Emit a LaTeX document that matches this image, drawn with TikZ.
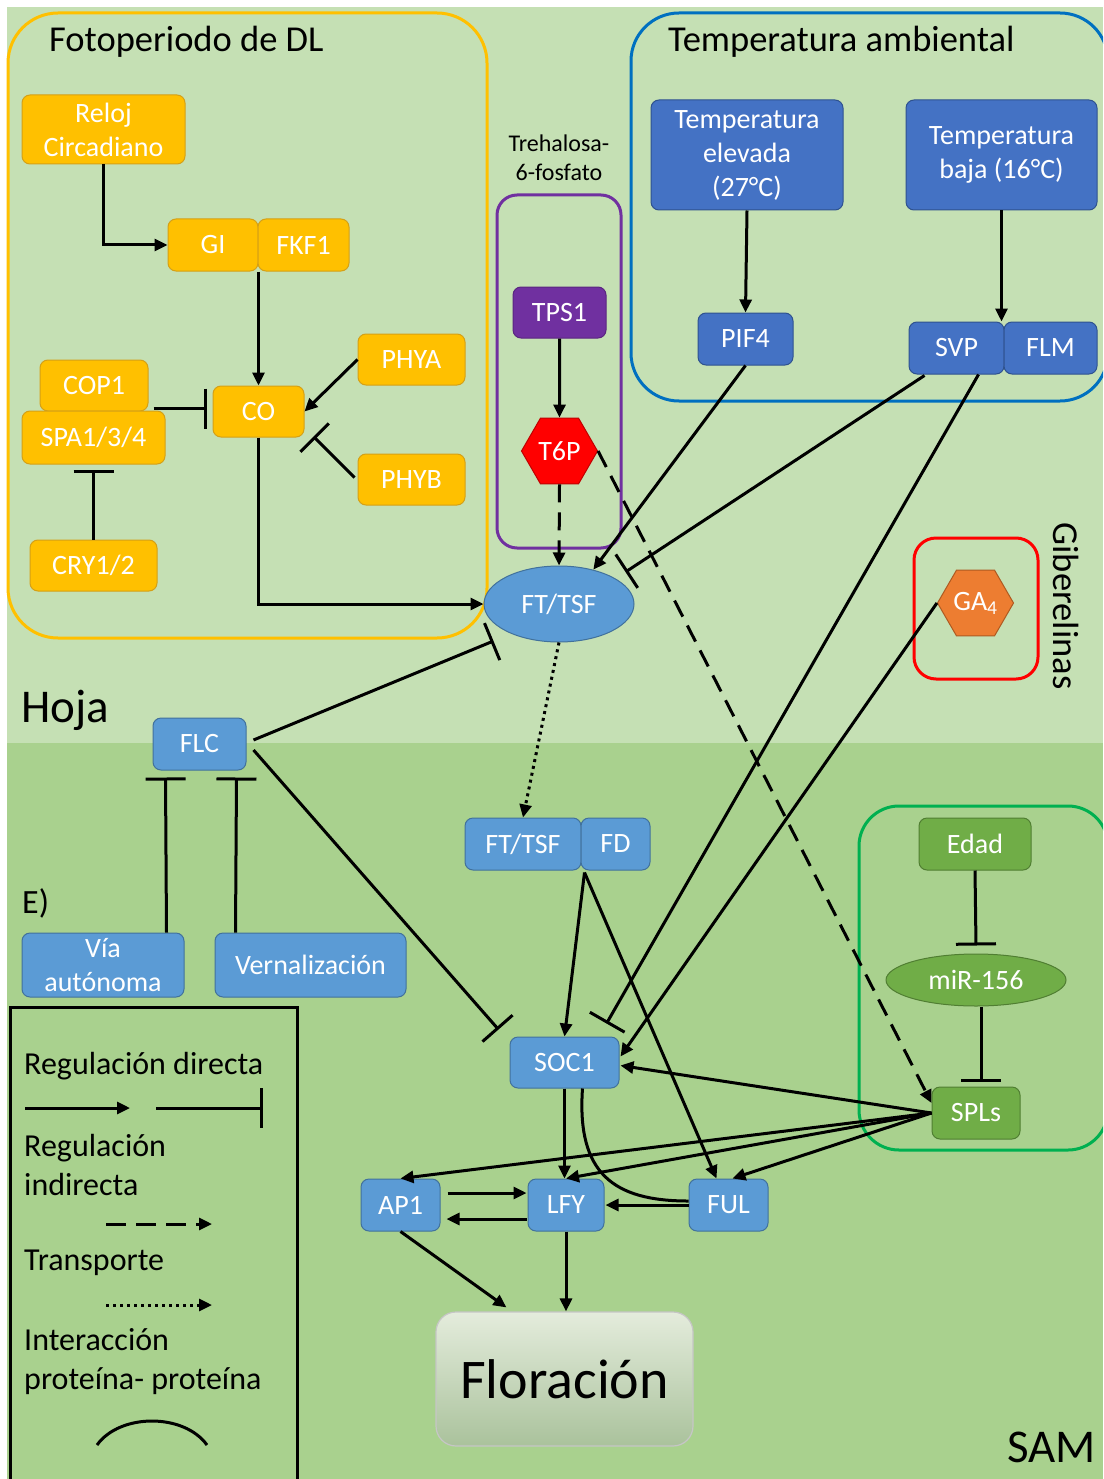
\documentclass[tikz,border=0pt]{standalone}
\usepackage{fontspec}
\setmainfont{Carlito}
\usetikzlibrary{arrows.meta,shapes.geometric,calc}
\definecolor{bgtop}{HTML}{C5E0B4}
\definecolor{bgbot}{HTML}{A9D18E}
\definecolor{ylw}{HTML}{FFC000}
\definecolor{ylwb}{HTML}{D4A017}
\definecolor{dblue}{HTML}{4472C4}
\definecolor{dblueb}{HTML}{2F528F}
\definecolor{lblue}{HTML}{5B9BD5}
\definecolor{lblueb}{HTML}{41719C}
\definecolor{grn}{HTML}{70AD47}
\definecolor{grnb}{HTML}{507E32}
\definecolor{purp}{HTML}{7030A0}
\definecolor{purpb}{HTML}{5A2680}
\definecolor{orng}{HTML}{ED7D31}
\definecolor{orngb}{HTML}{AE5A21}
\definecolor{redb}{HTML}{C00000}
\definecolor{boxblue}{HTML}{0070C0}
\definecolor{boxgreen}{HTML}{00B050}
\definecolor{florT}{HTML}{E4ECDC}
\definecolor{florB}{HTML}{AAC29C}
\newcommand\nodefont{\fontsize{28}{34}\selectfont}
\newcommand\titlefont{\fontsize{36.5}{44}\selectfont}
\newcommand\legfont{\fontsize{32}{39}\selectfont}
\begin{document}
\begin{tikzpicture}[x=1pt,y=-1pt,
  gbox/.style={rounded corners=8pt, inner sep=0pt, text=white, font=\nodefont, align=center, line width=1pt},
  yb/.style={gbox, fill=ylw, draw=ylwb},
  db/.style={gbox, fill=dblue, draw=dblueb},
  lb/.style={gbox, fill=lblue, draw=lblueb},
  gb/.style={gbox, fill=grn, draw=grnb},
  pb/.style={gbox, fill=purp, draw=purpb},
  sz/.style 2 args={minimum width=#1pt, minimum height=#2pt},
  hexa/.style={regular polygon, regular polygon sides=6, minimum size=76pt, inner sep=0pt, text=white, font=\nodefont, line width=1pt},
  ell/.style={ellipse, inner sep=0pt, text=white, font=\nodefont, line width=1pt},
  lbl/.style={inner sep=0pt, text=black},
  legt/.style={lbl, anchor=west, align=left, font=\legfont},
  region/.style={line width=3pt, rounded corners=#1},
  con/.style={line width=3pt},
  arr/.style={con, -{Triangle[length=13pt,width=12pt]}},
  inh/.style={con, -{Bar[width=40pt]}},
  darr/.style={arr, dash pattern=on 18pt off 10pt},
  tarr/.style={arr, dash pattern=on 3pt off 4pt}]

\useasboundingbox (0,0) rectangle (1103,1479);
\clip (0,0) rectangle (1103,1479);
\fill[white] (0,0) rectangle (1103,1479);
\fill[bgtop] (7,7) rectangle (1103,743);
\fill[bgbot] (7,743) rectangle (1103,1479);

% region boxes
\draw[region=50pt, draw=ylw] (8,13) rectangle (487,638);
\draw[region=48pt, draw=boxblue] (631,13) rectangle (1108,401);
\draw[region=20pt, draw=purp] (497,195) rectangle (621,548);
\draw[region=22pt, draw=red] (914,538) rectangle (1038,679);
\draw[region=40pt, draw=boxgreen] (859,806) rectangle (1108,1150);
\draw[line width=3pt] (10,1007) rectangle (297,1500);

% titles and labels
\node[lbl, anchor=west, font=\titlefont] (tfoto) at (49,42) {Fotoperiodo de DL};
\node[lbl, anchor=west, font=\titlefont] (ttemp) at (668,42) {Temperatura ambiental};
\node[lbl, align=center, font=\fontsize{24}{29}\selectfont] (ttreh) at (559,158) {Trehalosa-\\6-fosfato};
\node[lbl, rotate=-90, font=\titlefont] (tgib) at (1066,606) {Giberelinas};
\node[lbl, anchor=west, font=\fontsize{47}{52}\selectfont] (thoja) at (21,710) {Hoja};
\node[lbl, anchor=west, font=\fontsize{34}{40}\selectfont] (tE) at (22,903) {E)};
\node[lbl, anchor=east, font=\fontsize{47}{52}\selectfont] (tsam) at (1096,1447) {SAM};

% yellow nodes
\node[yb, sz={163}{69}] (Reloj) at (103.5,129.5) {Reloj\\Circadiano};
\node[yb, sz={90}{52}] (GI) at (213,245) {GI};
\node[yb, sz={91}{52}] (FKF1) at (303.5,245) {FKF1};
\node[yb, sz={108}{51}] (COP1) at (94,385.5) {COP1};
\node[yb, sz={143}{53}] (SPA) at (93.5,437.5) {SPA1/3/4};
\node[yb, sz={91}{51}] (CO) at (258.5,411.5) {CO};
\node[yb, sz={107}{51}] (PHYA) at (411.5,359.5) {PHYA};
\node[yb, sz={107}{51}] (PHYB) at (411.5,479.5) {PHYB};
\node[yb, sz={127}{51}] (CRY) at (93.5,565.5) {CRY1/2};

% trehalose
\node[pb, sz={93}{51}] (TPS1) at (559.5,312.5) {TPS1};
\node[hexa, fill=red, draw=redb] (T6P) at (559.5,451) {T6P};

% temperature
\node[db, sz={192}{110}] (TempE) at (747,155) {Temperatura\\elevada\\(27°C)};
\node[db, sz={191}{110}] (TempB) at (1001.5,155) {Temperatura\\baja (16°C)};
\node[db, sz={95}{52}] (PIF4) at (745.5,339) {PIF4};
\node[db, sz={95}{52}] (SVP) at (956.5,348) {SVP};
\node[db, sz={93}{52}] (FLM) at (1050.5,348) {FLM};

% FT and others
\node[ell, fill=lblue, draw=lblueb, minimum width=150pt, minimum height=76pt] (FTe) at (559,604) {FT/TSF};
\node[hexa, fill=orng, draw=orngb] (GA4) at (975.5,603) {GA\textsubscript{4}};
\node[lb, sz={93}{52}] (FLC) at (199.5,744) {FLC};
\node[lb, sz={162}{64}] (Via) at (103,965) {Vía\\autónoma};
\node[lb, sz={191}{64}] (Vern) at (310.5,965) {Vernalización};
\node[lb, sz={116}{52}] (FTr) at (523,844) {FT/TSF};
\node[lb, sz={69}{52}] (FD) at (615.5,844) {FD};
\node[lb, sz={109}{51}] (SOC1) at (564.5,1062.5) {SOC1};
\node[lb, sz={79}{52}] (AP1) at (400.5,1205) {AP1};
\node[lb, sz={76}{52}] (LFY) at (566,1205) {LFY};
\node[lb, sz={79}{52}] (FUL) at (728.5,1205) {FUL};

% age pathway
\node[gb, sz={112}{52}] (Edad) at (975,844) {Edad};
\node[ell, fill=grn, draw=grnb, minimum width=180pt, minimum height=52pt] (miR) at (976,980) {miR-156};
\node[gb, sz={88}{52}] (SPLs) at (976,1113) {SPLs};

% flowering
\node[draw=gray!45, line width=1.2pt, rounded corners=20pt, top color=florT, bottom color=florB,
      minimum width=257pt, minimum height=134pt, inner sep=0pt,
      font=\fontsize{56}{60}\selectfont] (Flor) at (564.5,1379) {Floración};

% connectors: photoperiod
\draw[arr] (Reloj.south) |- (GI.west);
\draw[arr] (GI.south east) -- (GI.south east |- CO.north);
\draw[inh] ($(COP1.east |- CO.west)+(5,-3)$) -- ($(CO.west)+(-6,-3)$);
\draw[arr] (PHYA.west) -- (CO.east);
\draw[inh] ($(PHYB.west)+(-3,-2)$) -- ($(CO.south east)+(9,-1)$);
\draw[inh] (CRY.north) -- ($(SPA.south)+(0,5)$);
\draw[arr] (CO.south) |- (FTe.west);

% trehalose
\draw[arr] (TPS1.south) -- (T6P.north);
\draw[darr] (T6P.south) -- (FTe.north);
\draw[darr] (T6P.east) -- ($(SPLs.west)+(0,-10)$);

% temperature
\draw[arr] (TempE.south) -- (PIF4.north);
\draw[arr] (TempB.south) -- (TempB.south |- SVP.north);
\draw[arr] (PIF4.south) -- (FTe.45);
\draw[inh] ($(SVP.south west)+(16,1)$) -- ($(FTe.east)+(-9,-32)$);
\draw[inh] ($(SVP.south)+(22,0)$) -- ($(SOC1.north east)+(-13,-13)$);
\draw[arr] (GA4.west) -- ($(SOC1.east)+(1,-6)$);

% FT transport and FLC
\draw[tarr] (FTe.south) -- (FTr.north);
\draw[inh] ($(FLC.east)+(7,-4)$) -- ($(FTe.west)+(10,37)$);
\draw[inh] ($(FLC.east)+(7,6)$) -- ($(SOC1.north west)+(-11,-7)$);
\draw[inh] ($(Via.north east)+(-18,0)$) -- ($(FLC.south west)+(13,7)$);
\draw[inh] ($(Vern.north west)+(21,0)$) -- ($(FLC.south east)+(-10,7)$);

% SAM network
\draw[arr] ($(FD.south west)+(4,2)$) -- (SOC1.north);
\draw[arr] ($(FD.south west)+(4,2)$) -- ($(FUL.north west)+(28,0)$);
\draw[arr] (SPLs.west) -- ($(SOC1.east)+(1,3)$);
\draw[arr] (SPLs.west) -- (AP1.north);
\draw[arr] (SPLs.west) -- (LFY.north);
\draw[arr] (SPLs.west) -- ($(FUL.north)+(4,0)$);
\draw[arr] (SOC1.south) -- (SOC1.south |- LFY.north);
\draw[con] ($(SOC1.south)+(18,0)$) .. controls ($(SOC1.south)+(12,85)$) and ($(FUL.west)+(-75,-4)$) .. ($(FUL.west)+(0,-4)$);
\draw[arr] ($(AP1.east)+(7,-12)$) -- ($(LFY.west)+(-1,-12)$);
\draw[arr] ($(LFY.west)+(-1,14)$) -- ($(AP1.east)+(6,14)$);
\draw[arr] (FUL.west) -- ($(LFY.east)+(1,0)$);
\draw[arr] (AP1.south) -- ($(Flor.north west)+(71,-4)$);
\draw[arr] (LFY.south) -- (LFY.south |- Flor.north);
\draw[inh] (Edad.south) -- ($(miR.north)+(0,-8)$);
\draw[inh] ($(miR.south)+(5,0)$) -- ($(SPLs.north)+(5,-5)$);

% legend
\node[legt] (L1) at (24,1066) {Regulación directa};
\node[legt] (L2) at (24,1165) {Regulación\\indirecta};
\node[legt] (L3) at (24,1263) {Transporte};
\node[legt] (L4) at (24,1362) {Interacción\\proteína- proteína};
\coordinate (a1) at (25,1108);
\coordinate (a2) at (130,1108);
\coordinate (b1) at (156,1108);
\coordinate (b2) at (263,1108);
\coordinate (c1) at (106,1224);
\coordinate (c2) at (212,1224);
\coordinate (d1) at (106,1305);
\coordinate (d2) at (212,1305);
\coordinate (e1) at (97,1445);
\coordinate (e2) at (207,1445);
\draw[arr] (a1) -- (a2);
\draw[inh] (b1) -- (b2);
\draw[arr, dash pattern=on 20pt off 10pt] (c1) -- (c2);
\draw[tarr] (d1) -- (d2);
\draw[con] (e1) .. controls (120,1413) and (184,1413) .. (e2);
\end{tikzpicture}
\end{document}
